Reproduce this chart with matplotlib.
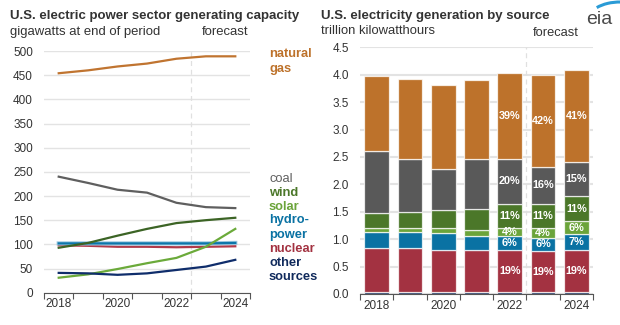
import matplotlib
matplotlib.use('Agg')
import matplotlib.pyplot as plt
import numpy as np
from matplotlib.patches import Arc

plt.rcParams['font.family'] = ['Liberation Sans', 'DejaVu Sans']

years = [2018, 2019, 2020, 2021, 2022, 2023, 2024]
tick_years = [2018, 2020, 2022, 2024]

# Left: capacity (GW)
cap_gas = [454, 460, 468, 474, 484, 489, 489]
cap_coal = [240, 227, 213, 207, 186, 177, 175]
cap_wind = [93, 103, 118, 132, 144, 150, 155]
cap_solar = [31, 38, 49, 61, 72, 95, 132]
cap_hydro = [102, 102, 102, 102, 102, 102, 103]
cap_nuclear = [98, 97, 95, 95, 94, 95, 96]
cap_other = [41, 40, 37, 40, 47, 54, 68]

# Right: generation (trillion kWh)
gen_other = [0.03, 0.03, 0.03, 0.03, 0.03, 0.03, 0.03]
gen_nuclear = [0.81, 0.81, 0.78, 0.77, 0.77, 0.76, 0.78]
gen_hydro = [0.29, 0.29, 0.30, 0.26, 0.25, 0.24, 0.28]
gen_solar = [0.07, 0.07, 0.09, 0.11, 0.16, 0.17, 0.24]
gen_wind = [0.27, 0.29, 0.33, 0.385, 0.44, 0.45, 0.45]
gen_coal = [1.14, 0.97, 0.75, 0.905, 0.81, 0.66, 0.63]
gen_gas = [1.37, 1.47, 1.54, 1.45, 1.58, 1.69, 1.68]

label_years = [2022, 2023, 2024]
pct_nuclear = ['19%', '19%', '19%']
pct_hydro = ['6%', '6%', '7%']
pct_solar = ['4%', '4%', '6%']
pct_wind = ['11%', '11%', '11%']
pct_coal = ['20%', '16%', '15%']
pct_gas = ['39%', '42%', '41%']

C_GAS = '#BD722B'
C_COAL = '#595959'
C_WIND = '#4B7729'
C_SOLAR = '#6BA43A'
C_HYDRO = '#0A72A3'
C_NUC = '#A33241'
C_OTHER = '#102A5C'
GRID = '#E3E3E3'
TXT = '#333333'

fig = plt.figure(figsize=(6.2, 3.25), dpi=100)

def style_axis(ax):
    ax.set_xlim(2017.5, 2024.5)
    for s in ['left', 'right', 'top']:
        ax.spines[s].set_visible(False)
    ax.spines['bottom'].set_color('#555555')
    ax.set_xticks(np.arange(2017.5, 2025, 1.0))
    ax.set_xticklabels([])
    ax.tick_params(axis='x', which='major', length=4, color='#555555', direction='out')
    ax.set_xticks(tick_years, minor=True)
    ax.set_xticklabels([str(y) for y in tick_years], minor=True)
    ax.tick_params(axis='x', which='minor', length=0, labelsize=8.5, labelcolor=TXT, pad=4)
    ax.tick_params(axis='y', length=0, labelsize=8.5, labelcolor=TXT, pad=8)
    ax.grid(axis='y', color=GRID, lw=1.0)
    ax.set_axisbelow(True)
    ax.axvline(2022.5, color='#E0E0E0', lw=0.9, ls=(0, (4, 3)), zorder=1)

# Left axes
ax1 = fig.add_axes([44/620, 1-292.7/325, (250-44)/620, (292.7-51)/325])
style_axis(ax1)
ax1.set_ylim(0, 500)
ax1.set_yticks(np.arange(0, 501, 50))
lw = 1.6
ax1.plot(years, cap_gas, color='#C07430', lw=lw, zorder=3)
ax1.plot(years, cap_coal, color='#5F5F5F', lw=lw, zorder=3)
ax1.plot(years, cap_nuclear, color='#B03A4A', lw=lw, zorder=3)
ax1.plot(years, cap_hydro, color='#9CC8E0', lw=3.0, zorder=3)
ax1.plot(years, cap_hydro, color='#0C76AA', lw=1.6, zorder=3)
ax1.plot(years, cap_wind, color='#3C6425', lw=lw, zorder=4)
ax1.plot(years, cap_solar, color='#6BAA3A', lw=lw, zorder=4)
ax1.plot(years, cap_other, color='#0F2D6B', lw=lw, zorder=4)

# Right axes
ax2 = fig.add_axes([360/620, 1-294/325, (593-360)/620, (294-47.3)/325])
style_axis(ax2)
ax2.set_ylim(0, 4.5)
ax2.set_yticks(np.arange(0, 4.51, 0.5))
ax2.set_yticklabels([f'{v:.1f}' for v in np.arange(0, 4.51, 0.5)])
ax2.grid(axis='y', color=GRID, lw=1.5)

series = [gen_other, gen_nuclear, gen_hydro, gen_solar, gen_wind, gen_coal, gen_gas]
colors = [C_OTHER, C_NUC, C_HYDRO, C_SOLAR, C_WIND, C_COAL, C_GAS]
bottom = np.zeros(len(years))
bottoms = []
for vals, col in zip(series, colors):
    v = np.array(vals)
    ax2.bar(years, v, bottom=bottom, width=0.74, color=col,
            edgecolor=(1, 1, 1, 0.75), linewidth=0.9, zorder=2)
    bottoms.append(bottom.copy())
    bottom = bottom + v

pct_lists = [None, pct_nuclear, pct_hydro, pct_solar, pct_wind, pct_coal, pct_gas]
for i, plist in enumerate(pct_lists):
    if plist is None:
        continue
    for j, yr in enumerate(label_years):
        k = years.index(yr)
        yc = bottoms[i][k] + series[i][k] / 2
        ax2.text(yr, yc, plist[j], color='white', fontsize=7.8, fontweight='bold',
                 ha='center', va='center', zorder=5)

# Titles (fit to measured widths)
renderer = fig.canvas.get_renderer()
def fitted(x, y, s, width_px, ha='left', **kw):
    t = fig.text(x, y, s, ha=ha, va='center', color=TXT, **kw)
    w = t.get_window_extent(renderer=renderer).width
    t.set_fontsize(t.get_fontsize() * width_px / w)
    return t

fitted(10/620, 1-15.7/325, 'U.S. electric power sector generating capacity', 290,
       fontsize=10, fontweight='bold')
fitted(10/620, 1-32/325, 'gigawatts at end of period', 152, fontsize=9)
fitted(225/620, 1-32/325, 'forecast', 47, ha='center', fontsize=9)

fitted(320.7/620, 1-15.7/325, 'U.S. electricity generation by source', 229,
       fontsize=10, fontweight='bold')
fitted(320.7/620, 1-31/325, 'trillion kilowatthours', 115, fontsize=9)
fitted(556/620, 1-33.3/325, 'forecast', 46, ha='center', fontsize=9)

# Series labels on left chart
lx = 269/620
labels = [('natural', C_GAS, 54), ('gas', C_GAS, 69),
          ('coal', '#5F5F5F', 178.7), ('wind', C_WIND, 192.7), ('solar', C_SOLAR, 206.7),
          ('hydro-', C_HYDRO, 220.5), ('power', C_HYDRO, 234.7), ('nuclear', C_NUC, 248.7),
          ('other', C_OTHER, 262.7), ('sources', C_OTHER, 276.5)]
for txt, col, ypx in labels:
    fw = 'normal' if txt == 'coal' else 'bold'
    fig.text(lx, 1-ypx/325, txt, color=col, fontsize=9.3, fontweight=fw, ha='left', va='center')

# eia logo
lax = fig.add_axes([580/620, 1-30/325, 40/620, 30/325])
lax.set_xlim(0, 40)
lax.set_ylim(0, 30)
lax.axis('off')
lax.text(19.5, 10, 'eia', fontsize=14, color='#4A4A4A', ha='center', va='center')
lax.add_patch(Arc((40, 10), 64, 36, theta1=88, theta2=152, color='#2A9BD6', lw=2.2))

fig.savefig('out.png', dpi=100)
